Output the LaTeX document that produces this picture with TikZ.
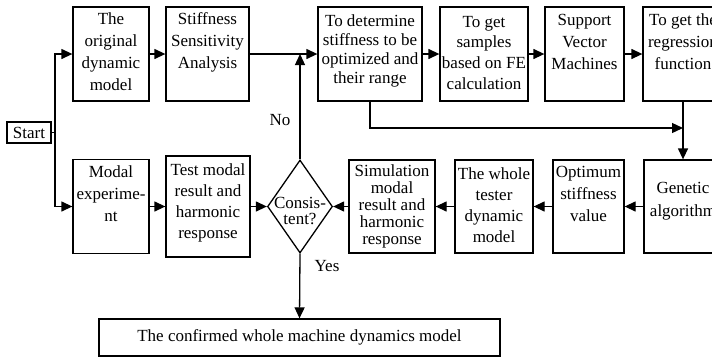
\documentclass[tikz,border=0pt]{standalone}
\usepackage{fontspec}
\setmainfont{Liberation Serif}
\usetikzlibrary{arrows.meta,shapes.geometric,calc}
\newcommand{\bt}[5]{\parbox[c][#2][t]{#1}{\fontsize{17}{#4}\selectfont\centering\vspace*{\dimexpr#3-\ht\strutbox\relax}\strut #5\par}}
\tikzset{
  box/.style={draw, line width=1.3pt, rectangle, inner sep=0pt},
  line/.style={line width=1.3pt},
  arr/.style={line width=1.3pt, -{Triangle[length=11pt,width=10pt]}},
}
\begin{document}
\begin{tikzpicture}[x=1pt,y=-1pt,font=\fontsize{17}{21}\selectfont]
\clip (0,0) rectangle (712,357);
\fill[white] (0,0) rectangle (712,357);
% top row
\node[box] (orig) at (111,54) {\bt{76pt}{94pt}{17pt}{22pt}{The\\original\\dynamic\\model}};
\node[box] (ssa) at (207.5,54) {\bt{83pt}{94pt}{17pt}{22pt}{Stiffness\\Sensitivity\\Analysis}};
\node[box] (det) at (370,54) {\bt{104pt}{94pt}{19pt}{19pt}{To determine\\stiffness to be\\optimized and\\their range}};
\node[box] (samp) at (484,54) {\bt{88pt}{94pt}{20pt}{20.7pt}{To get\\samples\\based on FE\\calculation}};
\node[box] (svm) at (584.5,54) {\bt{79pt}{94pt}{18pt}{22pt}{Support\\Vector\\Machines}};
\node[box] (reg) at (683,54) {\bt{80pt}{94pt}{18pt}{22pt}{To get the\\regression\\function}};
% bottom row
\node[box] (modal) at (111,206.5) {\bt{76pt}{94pt}{17.5pt}{22pt}{Modal\\experime-\\nt}};
\node[box] (test) at (208,206.5) {\bt{84pt}{101pt}{19pt}{21pt}{Test modal\\result and\\harmonic\\response}};
\node[draw, diamond, line width=1.3pt, inner sep=0pt, minimum width=65pt, minimum height=93pt] (cons) at (300,206.5) {};
\node[align=center, inner sep=0pt, font=\fontsize{17}{16}\selectfont] (constxt) at (300,210.5) {Consis-\\tent?};
\node[box] (sim) at (392,206.5) {\bt{86pt}{93pt}{16pt}{17pt}{Simulation\\modal\\result and\\harmonic\\response}};
\node[box] (whole) at (494,206.5) {\bt{78pt}{93pt}{19pt}{21pt}{The whole\\tester\\dynamic\\model}};
\node[box] (opt) at (588.5,206.5) {\bt{71pt}{93pt}{17pt}{22pt}{Optimum\\stiffness\\value}};
\node[box] (gen) at (683,206.5) {\bt{78pt}{93pt}{33pt}{23pt}{Genetic\\algorithm}};
% start and final
\node[box, minimum width=44pt, minimum height=21pt] (start) at (29,132.5) {Start};
\node[box, minimum width=401pt, minimum height=37pt] (final) at (299.5,337.5) {The confirmed whole machine dynamics model};
% labels
\node (no) at (280,120) {No};
\node (yes) at (327,266) {Yes};
% connectors
\coordinate (split) at (55,132.5);
\coordinate (j) at (683,128);
\draw[line] (start.east) -- (split);
\draw[arr] (split) |- (orig.west);
\draw[arr] (split) |- (modal.west);
\draw[arr] (orig.east) -- (ssa.west);
\draw[arr] (ssa.east) -- (det.west);
\draw[arr] (cons.north) -- (cons.north |- ssa.east);
\draw[arr] (det.east) -- (samp.west);
\draw[arr] (samp.east) -- (svm.west);
\draw[arr] (svm.east) -- (reg.west);
\draw[arr] (det.south) |- (j);
\draw[arr] (reg.south) -- (gen.north);
\draw[arr] (gen.west) -- (opt.east);
\draw[arr] (opt.west) -- (whole.east);
\draw[arr] (whole.west) -- (sim.east);
\draw[arr] (sim.west) -- (cons.east);
\draw[arr] (modal.east) -- (test.west);
\draw[arr] (test.east) -- (cons.west);
\draw[arr] (cons.south) -- (final.north);
\end{tikzpicture}
\end{document}
